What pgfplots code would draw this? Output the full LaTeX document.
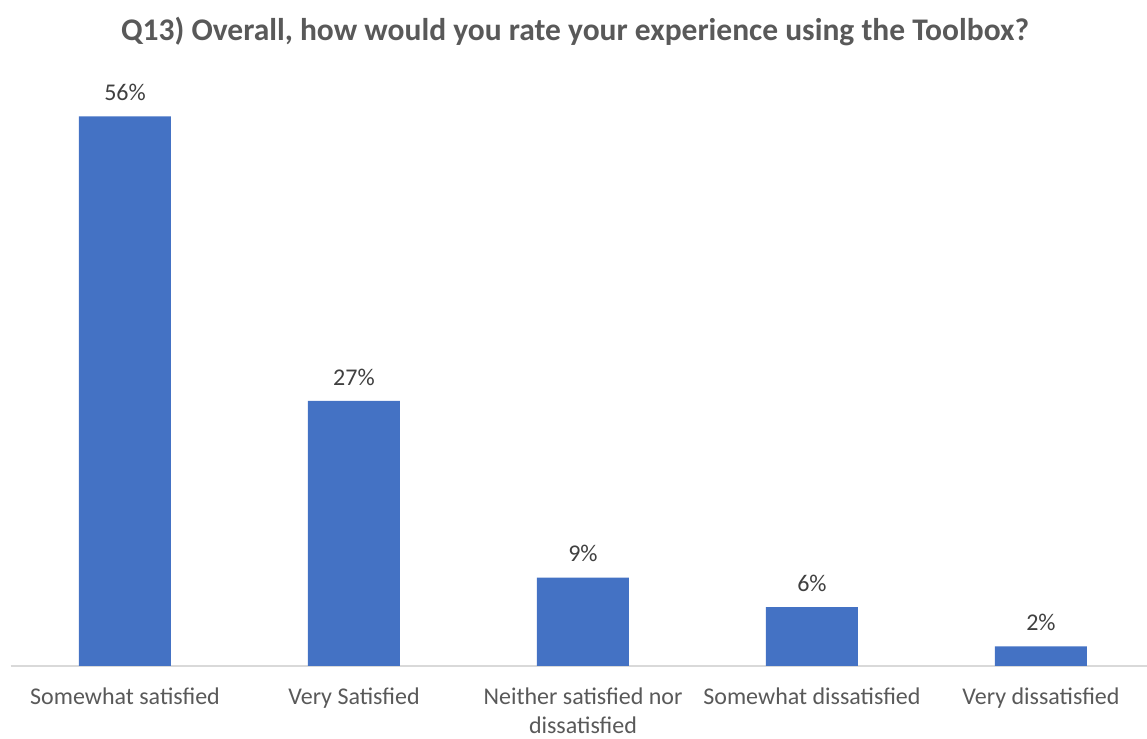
\documentclass[border=0pt]{standalone}
\usepackage{pgfplots}
\pgfplotsset{compat=1.18}
\usepackage{fontspec}
\setmainfont{Carlito}
\definecolor{barblue}{HTML}{4472C4}
\definecolor{txtgray}{HTML}{595959}
\definecolor{lblgray}{HTML}{404040}
\definecolor{axgray}{HTML}{D9D9D9}
\begin{document}
\begin{tikzpicture}
\useasboundingbox (0,0) rectangle (1147pt,738pt);
\node[font=\fontsize{31.5}{38}\selectfont\bfseries, text=txtgray] at (575pt,707pt) {Q13) Overall, how would you rate your experience using the Toolbox?};
\begin{axis}[
  at={(10.5pt,72pt)}, anchor=south west,
  scale only axis, width=1145pt, height=589pt,
  xmin=-0.5, xmax=4.5, ymin=0, ymax=60,
  axis y line=none,
  axis x line*=bottom,
  axis line style={draw=axgray, line width=1.2pt},
  xtick={0,1,2,3,4},
  xticklabels={Somewhat satisfied, Very Satisfied, {Neither satisfied nor\\dissatisfied}, Somewhat dissatisfied, Very dissatisfied},
  xticklabel style={font=\fontsize{24}{29}\selectfont, text=txtgray, align=center, yshift=-20.5pt, inner sep=1pt},
  major tick length=0pt,
  ytick=\empty,
  ybar, bar width=92pt,
  nodes near coords={\pgfmathprintnumber[assume math mode=true]{\pgfplotspointmeta}\%},
  nodes near coords style={font=\fontsize{24}{30}\selectfont, text=lblgray, yshift=12pt},
  clip=false,
]
\addplot[fill=barblue, draw=none] coordinates {(0,56) (1,27) (2,9) (3,6) (4,2)};
\end{axis}
\end{tikzpicture}
\end{document}
